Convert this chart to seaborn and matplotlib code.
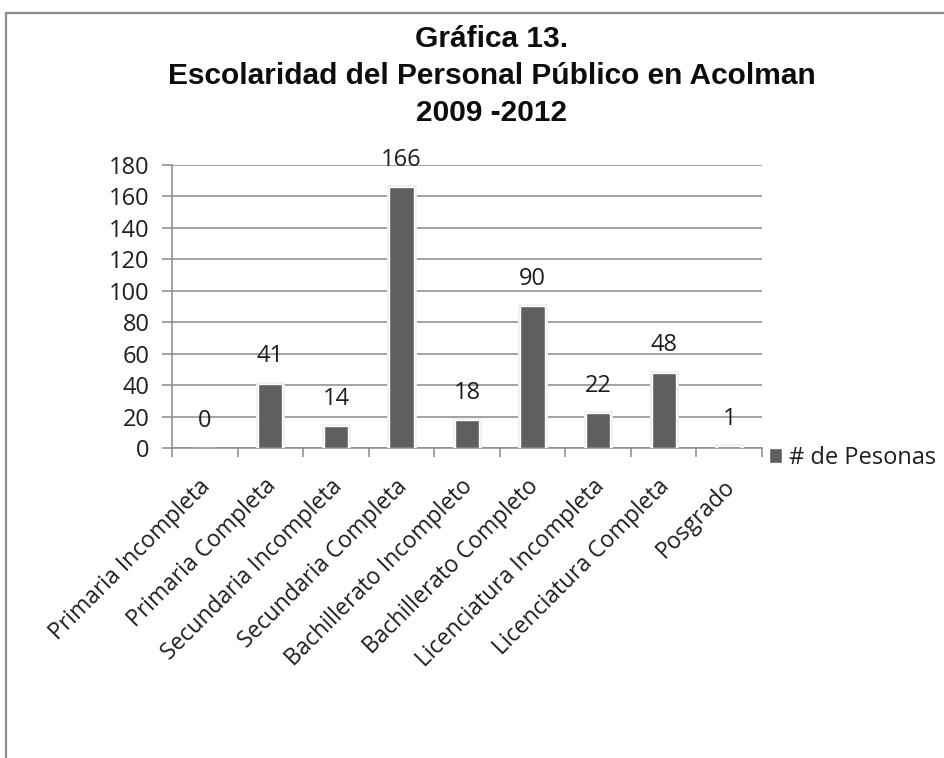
import matplotlib
matplotlib.use("Agg")
import matplotlib.pyplot as plt
import matplotlib.patheffects as pe
import matplotlib.transforms as mtransforms
from matplotlib.lines import Line2D
import seaborn as sns
import pandas as pd

categories = [
    "Primaria Incompleta",
    "Primaria Completa",
    "Secundaria Incompleta",
    "Secundaria Completa",
    "Bachillerato Incompleto",
    "Bachillerato Completo",
    "Licenciatura Incompleta",
    "Licenciatura Completa",
    "Posgrado",
]
personas = [0, 41, 14, 166, 18, 90, 22, 48, 1]
series_name = "# de Pesonas"
y_ticks = [0, 20, 40, 60, 80, 100, 120, 140, 160, 180]
title_lines = ["Gráfica 13.", "Escolaridad del Personal Público en Acolman", "2009 -2012"]

sns.set_theme(style="white")
plt.rcParams["font.family"] = ["Open Sans", "DejaVu Sans"]

BAR = "#5f5f5f"
GRID = "#8a8a8a"
TXT = "#1e1e1e"
FS = 17

df = pd.DataFrame({"categoria": categories, "personas": personas})

fig = plt.figure(figsize=(9.44, 7.58), dpi=100)
ax = fig.add_axes([0.1822, 0.409, 0.625, 0.3733])

sns.barplot(data=df, x="categoria", y="personas", color=BAR, width=0.37,
            saturation=1, label=series_name, ax=ax, zorder=3)

# soft light halo around the columns
for bar in ax.patches:
    if bar.get_height() > 0:
        bar.set_path_effects([pe.Stroke(linewidth=3.5, foreground="#f0f0f0"), pe.Normal()])

# value labels above each bar
for i, v in enumerate(personas):
    ax.annotate(str(v), xy=(i, v), xytext=(0, 19.5), textcoords="offset points",
                ha="center", va="center", fontsize=FS, color=TXT)

ax.set_xlim(-0.5, len(categories) - 0.5)
ax.set_ylim(0, 180)
ax.set_yticks(y_ticks)
ax.yaxis.grid(True, color=GRID, linewidth=1.1, zorder=0)
ax.set_axisbelow(True)

ax.set_xlabel("")
ax.set_ylabel("")

for side in ["top", "right"]:
    ax.spines[side].set_visible(False)
for side in ["left", "bottom"]:
    ax.spines[side].set_color(GRID)
    ax.spines[side].set_linewidth(1.1)

ax.tick_params(axis="y", length=7, width=1.1, color=GRID, pad=9,
               labelsize=FS, labelcolor=TXT, left=True)
ax.tick_params(axis="x", which="major", length=0, pad=19,
               labelsize=16.5, labelcolor=TXT, bottom=True)
ax.set_xticks([i - 0.5 for i in range(len(categories) + 1)], minor=True)
ax.tick_params(axis="x", which="minor", length=6.5, width=1.1, color=GRID,
               direction="out", bottom=True)

shift = mtransforms.ScaledTranslation(-6 / 100, 0, fig.dpi_scale_trans)
for lab in ax.get_xticklabels():
    lab.set_rotation(45)
    lab.set_ha("right")
    lab.set_va("top")
    lab.set_rotation_mode("anchor")
    lab.set_transform(lab.get_transform() + shift)

ax.legend(loc="center left", bbox_to_anchor=(1.012, -0.035), frameon=False,
          fontsize=FS, handlelength=0.55, handleheight=0.55, handletextpad=0.3,
          borderpad=0, borderaxespad=0, labelcolor=TXT)

fig.text(0.521, 1 - 76 / 758, "\n".join(title_lines), ha="center", va="center",
         fontsize=21.5, fontweight="bold", family=["Liberation Sans", "DejaVu Sans"],
         linespacing=1.4, color="#0d0d0d")

# chart-area border (top and left edges)
fig.add_artist(Line2D([6 / 944, 1.0], [1 - 13 / 758, 1 - 13 / 758],
                      transform=fig.transFigure, color="#8c8c8c", linewidth=1.6))
fig.add_artist(Line2D([6 / 944, 6 / 944], [0.0, 1 - 13 / 758],
                      transform=fig.transFigure, color="#8c8c8c", linewidth=1.6))

fig.savefig("out.png", dpi=100, facecolor="white")
